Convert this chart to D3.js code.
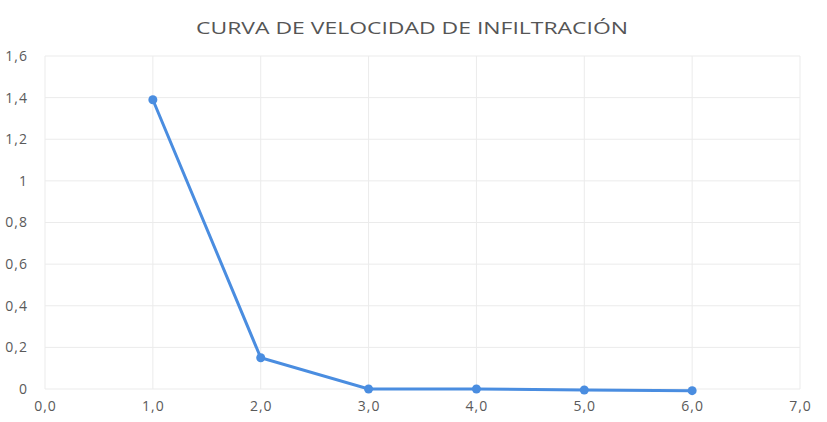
<!DOCTYPE html>
<html><head><meta charset="utf-8">
<script src="https://cdn.jsdelivr.net/npm/d3@7"></script>
<style>body{margin:0;background:#fff}text{font-family:"Open Sans","Liberation Sans",sans-serif;fill:#5a5a5a}</style>
</head><body><svg id="c" width="827" height="422"></svg>
<script>
const title = "CURVA DE VELOCIDAD DE INFILTRACIÓN";
const xValues = [1, 2, 3, 4, 5, 6];
const yValues = [1.39, 0.15, 0.0, 0.0, -0.005, -0.008];
const xTicks = [0, 1, 2, 3, 4, 5, 6, 7];
const yTicks = [0, 0.2, 0.4, 0.6, 0.8, 1, 1.2, 1.4, 1.6];
const yTickLabels = ["0", "0,2", "0,4", "0,6", "0,8", "1", "1,2", "1,4", "1,6"];

const svg = d3.select("#c");
const x = d3.scaleLinear().domain([0, 7]).range([45, 800]);
const y = d3.scaleLinear().domain([0, 1.6]).range([389, 56]);

svg.append("g").selectAll("line").data(yTicks).join("line")
  .attr("x1", x(0)).attr("x2", x(7)).attr("y1", d => y(d)).attr("y2", d => y(d))
  .attr("stroke", "#ebebeb").attr("stroke-width", 1);
svg.append("g").selectAll("line").data(xTicks).join("line")
  .attr("y1", y(0)).attr("y2", y(1.6)).attr("x1", d => x(d)).attr("x2", d => x(d))
  .attr("stroke", "#ebebeb").attr("stroke-width", 1);

const yAxis = d3.axisLeft(y).tickValues(yTicks).tickSize(0).tickPadding(17)
  .tickFormat((d, i) => yTickLabels[i]);
const gy = svg.append("g").attr("transform", `translate(${x(0)},0)`).call(yAxis);
gy.select(".domain").remove();
gy.selectAll("text").style("font-size", "14px").style("letter-spacing", "1px");

const xAxis = d3.axisBottom(x).tickValues(xTicks).tickSize(0).tickPadding(12)
  .tickFormat(d => d3.format(".1f")(d).replace(".", ","));
const gx = svg.append("g").attr("transform", `translate(0,${y(0)})`).call(xAxis);
gx.select(".domain").remove();
gx.selectAll("text").style("font-size", "14px").style("letter-spacing", "1px");

svg.append("text").attr("x", 412).attr("y", 34).attr("text-anchor", "middle")
  .attr("textLength", 432).attr("lengthAdjust", "spacingAndGlyphs")
  .style("font-size", "16px").style("fill", "#555").text(title);

const data = xValues.map((v, i) => [v, yValues[i]]);
svg.append("path").datum(data)
  .attr("fill", "none").attr("stroke", "#4a8de0").attr("stroke-width", 3)
  .attr("d", d3.line().x(d => x(d[0])).y(d => y(d[1])));
svg.append("g").selectAll("circle").data(data).join("circle")
  .attr("cx", d => x(d[0])).attr("cy", d => y(d[1])).attr("r", 4.5)
  .attr("fill", "#4a8de0");
</script></body></html>
